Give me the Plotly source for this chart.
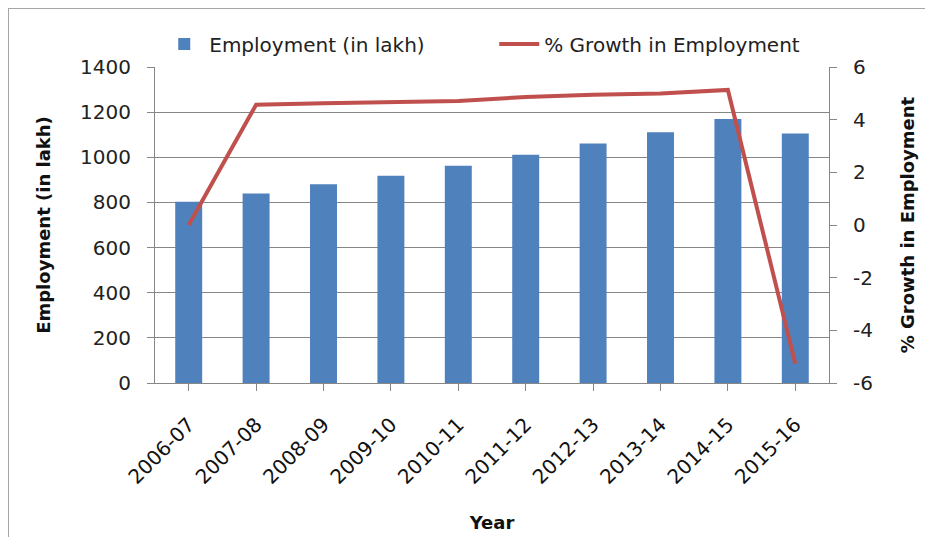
import plotly.graph_objects as go

years = ["2006-07", "2007-08", "2008-09", "2009-10", "2010-11",
         "2011-12", "2012-13", "2013-14", "2014-15", "2015-16"]
employment = [803, 840, 880, 918, 962, 1011, 1061, 1111, 1170, 1105]
growth = [0.0, 4.57, 4.62, 4.66, 4.71, 4.86, 4.95, 4.99, 5.13, -5.27]

left_ticks = [0, 200, 400, 600, 800, 1000, 1200, 1400]
right_ticks = [-6, -4, -2, 0, 2, 4, 6]
right_labels = ["-6", "-4", "-2", "0", "2", "4", "6"]

FONT = "DejaVu Sans"
AX = "#868686"

# page body adds an 8px offset; compensate so the plot lands where the reference has it
OFF = 8
W, H = 933 - OFF, 537 - OFF
ML, MT = 155 - OFF, 67 - OFF
PW, PH = 674, 316

fig = go.Figure()
fig.add_trace(go.Bar(x=years, y=employment, name="Employment (in lakh)",
                     marker=dict(color="#4F81BD", line=dict(width=0)),
                     yaxis="y"))
fig.add_trace(go.Scatter(x=years, y=growth, name="% Growth in Employment",
                         mode="lines", line=dict(color="#C0504D", width=4),
                         yaxis="y2"))

fig.update_layout(
    width=W, height=H,
    margin=dict(l=ML, r=W - ML - PW, t=MT, b=H - MT - PH),
    paper_bgcolor="white", plot_bgcolor="white",
    font=dict(family=FONT, size=20, color="#222222"),
    bargap=0.6,
    showlegend=True,
    legend=dict(orientation="h", x=0.0063, xanchor="left", y=1.073, yanchor="middle",
                font=dict(size=20, color="#222222"), entrywidth=280,
                bgcolor="rgba(0,0,0,0)", itemwidth=40),
    xaxis=dict(type="category", automargin=False,
               title=dict(text="<b>Year</b>", font=dict(size=18, color="#111111"), standoff=28),
               tickangle=-45, ticks="outside", ticklen=7, tickcolor=AX,
               showline=True, linecolor=AX, linewidth=1, showgrid=False,
               ticklabelstandoff=14, tickfont=dict(size=20, color="#111111")),
    yaxis=dict(automargin=False,
               title=dict(text="<b>Employment (in lakh)</b>", font=dict(size=18, color="#111111"), standoff=24),
               range=[0, 1400], tickvals=left_ticks, ticks="outside", ticklen=7,
               tickcolor=AX, showline=True, linecolor=AX, linewidth=1,
               showgrid=True, gridcolor=AX, gridwidth=1, zeroline=False,
               ticklabelstandoff=12, tickfont=dict(size=20, color="#222222")),
    yaxis2=dict(automargin=False,
                title=dict(text="<b>% Growth in Employment</b>", font=dict(size=18, color="#111111"), standoff=29),
                range=[-6, 6], tickvals=right_ticks, ticktext=right_labels,
                overlaying="y", side="right",
                ticks="outside", ticklen=7, tickcolor=AX, showline=True,
                linecolor=AX, linewidth=1, showgrid=False, zeroline=False,
                ticklabelstandoff=12, tickfont=dict(size=20, color="#222222")),
    shapes=[dict(type="rect", xref="paper", yref="paper",
                 x0=(8 - 155) / PW, x1=(945 - 155) / PW,
                 y0=(383 - 550) / PH, y1=(383 - 8) / PH,
                 line=dict(color="#a6a6a6", width=2), layer="below")],
)

fig.write_html("out.html")
